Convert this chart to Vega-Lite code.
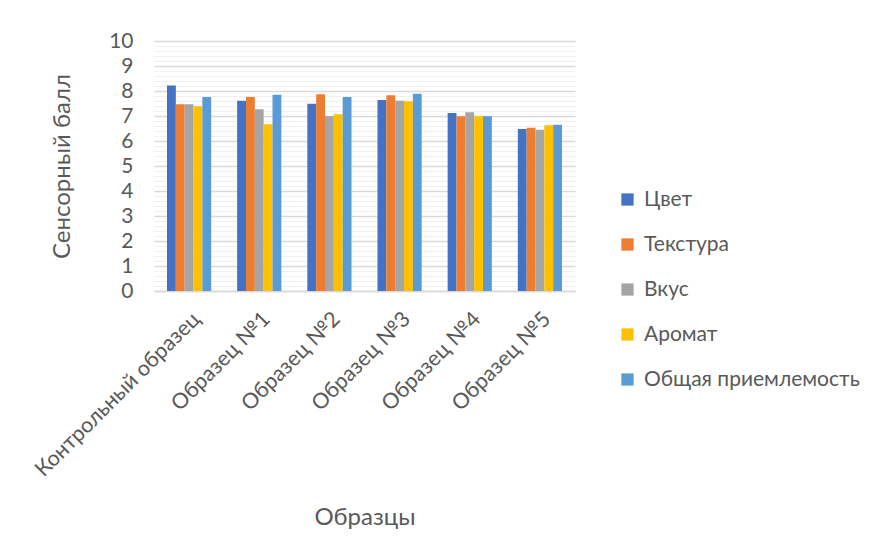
{
  "$schema": "https://vega.github.io/schema/vega-lite/v6.json",
  "autosize": "none",
  "width": 421,
  "height": 250,
  "padding": {"left": 154, "top": 41, "right": 299, "bottom": 264},
  "background": "white",
  "config": {
    "font": "Lato",
    "view": {"stroke": null}
  },
  "data": {
    "values": [
      {"sample": "Контрольный образец", "attr": "Цвет", "score": 8.22},
      {"sample": "Контрольный образец", "attr": "Текстура", "score": 7.47},
      {"sample": "Контрольный образец", "attr": "Вкус", "score": 7.47},
      {"sample": "Контрольный образец", "attr": "Аромат", "score": 7.39},
      {"sample": "Контрольный образец", "attr": "Общая приемлемость", "score": 7.76},
      {"sample": "Образец №1", "attr": "Цвет", "score": 7.61},
      {"sample": "Образец №1", "attr": "Текстура", "score": 7.76},
      {"sample": "Образец №1", "attr": "Вкус", "score": 7.27},
      {"sample": "Образец №1", "attr": "Аромат", "score": 6.67},
      {"sample": "Образец №1", "attr": "Общая приемлемость", "score": 7.85},
      {"sample": "Образец №2", "attr": "Цвет", "score": 7.49},
      {"sample": "Образец №2", "attr": "Текстура", "score": 7.87},
      {"sample": "Образец №2", "attr": "Вкус", "score": 6.99},
      {"sample": "Образец №2", "attr": "Аромат", "score": 7.07},
      {"sample": "Образец №2", "attr": "Общая приемлемость", "score": 7.76},
      {"sample": "Образец №3", "attr": "Цвет", "score": 7.64},
      {"sample": "Образец №3", "attr": "Текстура", "score": 7.83},
      {"sample": "Образец №3", "attr": "Вкус", "score": 7.61},
      {"sample": "Образец №3", "attr": "Аромат", "score": 7.59},
      {"sample": "Образец №3", "attr": "Общая приемлемость", "score": 7.89},
      {"sample": "Образец №4", "attr": "Цвет", "score": 7.12},
      {"sample": "Образец №4", "attr": "Текстура", "score": 6.99},
      {"sample": "Образец №4", "attr": "Вкус", "score": 7.15},
      {"sample": "Образец №4", "attr": "Аромат", "score": 6.99},
      {"sample": "Образец №4", "attr": "Общая приемлемость", "score": 6.99},
      {"sample": "Образец №5", "attr": "Цвет", "score": 6.48},
      {"sample": "Образец №5", "attr": "Текстура", "score": 6.53},
      {"sample": "Образец №5", "attr": "Вкус", "score": 6.45},
      {"sample": "Образец №5", "attr": "Аромат", "score": 6.63},
      {"sample": "Образец №5", "attr": "Общая приемлемость", "score": 6.65}
    ]
  },
  "mark": {"type": "bar"},
  "encoding": {
    "x": {
      "field": "sample",
      "type": "nominal",
      "sort": null,
      "scale": {"paddingInner": 0.37, "paddingOuter": 0.185},
      "axis": {
        "title": "Образцы",
        "titleFont": "Lato",
        "titleFontSize": 24,
        "titleFontWeight": "normal",
        "titleColor": "#595959",
        "titleY": 226,
        "titleBaseline": "middle",
        "labelAngle": -45,
        "labelFontSize": 21.5,
        "labelColor": "#595959",
        "labelPadding": 17,
        "ticks": false,
        "domainColor": "#d9d9d9",
        "domainWidth": 1.5,
        "labelLimit": 300
      }
    },
    "xOffset": {
      "field": "attr",
      "type": "nominal",
      "sort": ["Цвет", "Текстура", "Вкус", "Аромат", "Общая приемлемость"],
      "scale": {"paddingInner": 0, "paddingOuter": 0}
    },
    "y": {
      "field": "score",
      "type": "quantitative",
      "scale": {"domain": [0, 10], "nice": false},
      "axis": {
        "title": "Сенсорный балл",
        "titleFont": "Lato",
        "titleFontSize": 24,
        "titleFontWeight": "normal",
        "titleColor": "#595959",
        "titleX": -92,
        "titleY": 125,
        "titleAngle": -90,
        "titleAlign": "center",
        "titleBaseline": "middle",
        "values": [0, 0.2, 0.4, 0.6, 0.8, 1, 1.2, 1.4, 1.6, 1.8, 2, 2.2, 2.4, 2.6, 2.8, 3, 3.2, 3.4, 3.6, 3.8, 4, 4.2, 4.4, 4.6, 4.8, 5, 5.2, 5.4, 5.6, 5.8, 6, 6.2, 6.4, 6.6, 6.8, 7, 7.2, 7.4, 7.6, 7.8, 8, 8.2, 8.4, 8.6, 8.8, 9, 9.2, 9.4, 9.6, 9.8, 10],
        "format": ".0f",
        "labelExpr": "abs(datum.value - round(datum.value)) < 0.001 ? datum.label : ''",
        "labelOverlap": false,
        "labelFontSize": 21,
        "labelColor": "#595959",
        "labelPadding": 21,
        "ticks": false,
        "domain": false,
        "grid": true,
        "gridColor": {"condition": {"test": "abs(datum.value - round(datum.value)) < 0.001", "value": "#d9d9d9"}, "value": "#f0f0f0"},
        "gridWidth": {"condition": {"test": "abs(datum.value - round(datum.value)) < 0.001", "value": 1.5}, "value": 1}
      }
    },
    "color": {
      "field": "attr",
      "type": "nominal",
      "sort": ["Цвет", "Текстура", "Вкус", "Аромат", "Общая приемлемость"],
      "scale": {
        "domain": ["Цвет", "Текстура", "Вкус", "Аромат", "Общая приемлемость"],
        "range": ["#4472C4", "#ED7D31", "#A5A5A5", "#FFC000", "#5B9BD5"]
      },
      "legend": {
        "title": null,
        "orient": "none",
        "legendX": 463,
        "legendY": 148,
        "symbolType": "square",
        "symbolSize": 150,
        "symbolStrokeWidth": 0,
        "labelFontSize": 21,
        "labelColor": "#595959",
        "labelOffset": 6,
        "rowPadding": 23,
        "labelLimit": 400
      }
    }
  }
}
